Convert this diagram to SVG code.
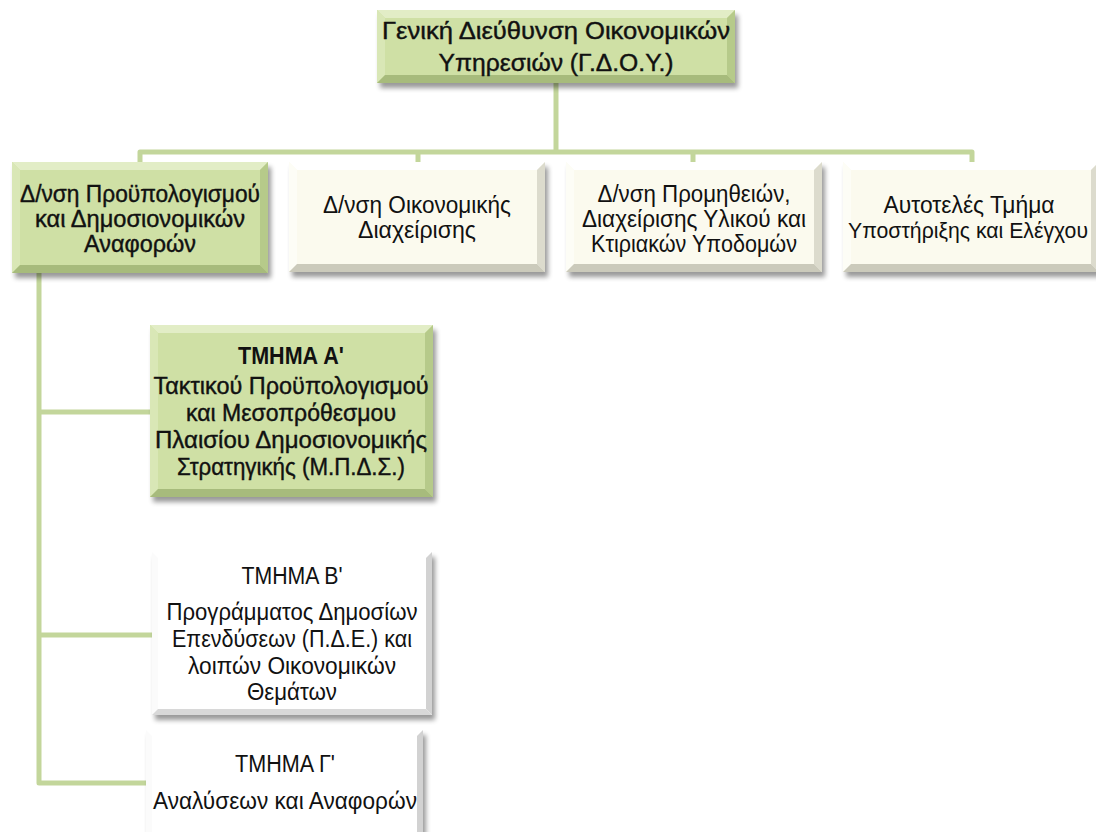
<svg xmlns="http://www.w3.org/2000/svg" width="1096" height="832" viewBox="0 0 1096 832">
  <defs>
    <filter id="shadow" x="-10%" y="-10%" width="130%" height="140%">
      <feGaussianBlur stdDeviation="2.5"/>
    </filter>
    <style>
      .conn { fill: none; stroke: #c3d69b; stroke-width: 5; stroke-linejoin: round; stroke-linecap: butt; }
      .shd { fill: #000; opacity: 0.4; filter: url(#shadow); }
      .green .base { fill: #cfe0a5; }
      .green .bt { fill: #e2edc6; }
      .green .bl { fill: #d9e7b6; }
      .green .br { fill: #b6ca8a; }
      .green .bb { fill: #a7bb7c; }
      .cream .base { fill: #fbfaee; }
      .cream .bt { fill: #ffffff; }
      .cream .bl { fill: #fdfdf6; }
      .cream .br { fill: #dcdbcd; }
      .cream .bb { fill: #cbcabb; }
      .white .base { fill: #ffffff; }
      .white .bt { fill: #ffffff; }
      .white .bl { fill: #fbfbfb; }
      .white .br { fill: #d2d2d2; }
      .white .bb { fill: #d8d8d8; }
      text { font-family: "Liberation Sans", Arial, sans-serif; font-size: 23.5px; fill: #111; text-anchor: middle; }
      .green text { stroke: #111; stroke-width: 0.4; }
      text.hd { font-weight: bold; stroke: none; }
      text.tight { font-size: 22px; }
    </style>
  </defs>
  <rect width="1096" height="832" fill="#ffffff"/>

  <!-- connectors -->
  <g id="connectors">
    <path class="conn" d="M556 83 V152"/>
    <path class="conn" d="M140 162 V152 H972 V162"/>
    <path class="conn" d="M418 152 V162"/>
    <path class="conn" d="M693 152 V162"/>
    <path class="conn" d="M39 273 V783 H146"/>
    <path class="conn" d="M39 412 H150"/>
    <path class="conn" d="M39 635 H152"/>
  </g>

  <!-- top: general directorate -->
  <g id="gdoy" class="green">
    <rect class="shd" x="380" y="15" width="358" height="73"/>
    <rect class="base" x="377" y="10" width="358" height="73"/>
    <polygon class="bt" points="377,10 735,10 727,18 385,18"/>
    <polygon class="bl" points="377,10 385,18 385,75 377,83"/>
    <polygon class="br" points="735,10 735,83 727,75 727,18"/>
    <polygon class="bb" points="377,83 385,75 727,75 735,83"/>
    <text x="556" y="39" textLength="348" lengthAdjust="spacingAndGlyphs">Γενική Διεύθυνση Οικονομικών</text>
    <text x="556" y="71" textLength="235" lengthAdjust="spacingAndGlyphs">Υπηρεσιών (Γ.Δ.Ο.Υ.)</text>
  </g>

  <!-- budget directorate -->
  <g id="dir-budget" class="green">
    <rect class="shd" x="15" y="167" width="256" height="111"/>
    <rect class="base" x="12" y="162" width="256" height="111"/>
    <polygon class="bt" points="12,162 268,162 260,170 20,170"/>
    <polygon class="bl" points="12,162 20,170 20,265 12,273"/>
    <polygon class="br" points="268,162 268,273 260,265 260,170"/>
    <polygon class="bb" points="12,273 20,265 260,265 268,273"/>
    <text x="140" y="202" textLength="240" lengthAdjust="spacingAndGlyphs">Δ/νση Προϋπολογισμού</text>
    <text x="140" y="227" textLength="210" lengthAdjust="spacingAndGlyphs">και Δημοσιονομικών</text>
    <text x="140" y="252" textLength="112" lengthAdjust="spacingAndGlyphs">Αναφορών</text>
  </g>

  <!-- financial management directorate -->
  <g id="dir-finance" class="cream">
    <rect class="shd" x="292" y="167" width="256" height="110"/>
    <rect class="base" x="289" y="162" width="256" height="110"/>
    <polygon class="bt" points="289,162 545,162 537,170 297,170"/>
    <polygon class="bl" points="289,162 297,170 297,264 289,272"/>
    <polygon class="br" points="545,162 545,272 537,264 537,170"/>
    <polygon class="bb" points="289,272 297,264 537,264 545,272"/>
    <text x="417" y="213" textLength="188" lengthAdjust="spacingAndGlyphs">Δ/νση Οικονομικής</text>
    <text x="417" y="238" textLength="118" lengthAdjust="spacingAndGlyphs">Διαχείρισης</text>
  </g>

  <!-- procurement directorate -->
  <g id="dir-procurement" class="cream">
    <rect class="shd" x="569" y="167" width="256" height="110"/>
    <rect class="base" x="566" y="162" width="256" height="110"/>
    <polygon class="bt" points="566,162 822,162 814,170 574,170"/>
    <polygon class="bl" points="566,162 574,170 574,264 566,272"/>
    <polygon class="br" points="822,162 822,272 814,264 814,170"/>
    <polygon class="bb" points="566,272 574,264 814,264 822,272"/>
    <text x="694" y="202" textLength="193" lengthAdjust="spacingAndGlyphs">Δ/νση Προμηθειών,</text>
    <text x="694" y="227" textLength="224" lengthAdjust="spacingAndGlyphs">Διαχείρισης Υλικού και</text>
    <text x="694" y="252" textLength="206" lengthAdjust="spacingAndGlyphs">Κτιριακών Υποδομών</text>
  </g>

  <!-- independent support unit -->
  <g id="unit-support" class="cream">
    <rect class="shd" x="846" y="167" width="256" height="110"/>
    <rect class="base" x="843" y="162" width="256" height="110"/>
    <polygon class="bt" points="843,162 1099,162 1091,170 851,170"/>
    <polygon class="bl" points="843,162 851,170 851,264 843,272"/>
    <polygon class="br" points="1099,162 1099,272 1091,264 1091,170"/>
    <polygon class="bb" points="843,272 851,264 1091,264 1099,272"/>
    <text x="969" y="213" textLength="171" lengthAdjust="spacingAndGlyphs">Αυτοτελές Τμήμα</text>
    <text class="tight" x="968" y="238" textLength="240" lengthAdjust="spacingAndGlyphs">Υποστήριξης και Ελέγχου</text>
  </g>

  <!-- section A -->
  <g id="section-a" class="green">
    <rect class="shd" x="153" y="330" width="283" height="172"/>
    <rect class="base" x="150" y="325" width="283" height="172"/>
    <polygon class="bt" points="150,325 433,325 425,333 158,333"/>
    <polygon class="bl" points="150,325 158,333 158,489 150,497"/>
    <polygon class="br" points="433,325 433,497 425,489 425,333"/>
    <polygon class="bb" points="150,497 158,489 425,489 433,497"/>
    <text class="hd" x="291" y="364" textLength="106" lengthAdjust="spacingAndGlyphs">ΤΜΗΜΑ Α'</text>
    <text x="291" y="394" textLength="275" lengthAdjust="spacingAndGlyphs">Τακτικού Προϋπολογισμού</text>
    <text x="291" y="421" textLength="210" lengthAdjust="spacingAndGlyphs">και Μεσοπρόθεσμου</text>
    <text x="291" y="448" textLength="272" lengthAdjust="spacingAndGlyphs">Πλαισίου Δημοσιονομικής</text>
    <text x="291" y="475" textLength="228" lengthAdjust="spacingAndGlyphs">Στρατηγικής (Μ.Π.Δ.Σ.)</text>
  </g>

  <!-- section B -->
  <g id="section-b" class="white">
    <rect class="shd" x="155" y="557" width="280" height="163"/>
    <rect class="base" x="152" y="552" width="280" height="163"/>
    <polygon class="bt" points="152,552 432,552 426,558 158,558"/>
    <polygon class="bl" points="152,552 158,558 158,709 152,715"/>
    <polygon class="br" points="432,552 432,715 426,709 426,558"/>
    <polygon class="bb" points="152,715 158,709 426,709 432,715"/>
    <text x="292" y="584" textLength="101" lengthAdjust="spacingAndGlyphs">ΤΜΗΜΑ Β'</text>
    <text x="292" y="620" textLength="251" lengthAdjust="spacingAndGlyphs">Προγράμματος Δημοσίων</text>
    <text x="292" y="647" textLength="240" lengthAdjust="spacingAndGlyphs">Επενδύσεων (Π.Δ.Ε.) και</text>
    <text x="292" y="674" textLength="208" lengthAdjust="spacingAndGlyphs">λοιπών Οικονομικών</text>
    <text x="292" y="700" textLength="90" lengthAdjust="spacingAndGlyphs">Θεμάτων</text>
  </g>

  <!-- section C -->
  <g id="section-c" class="white">
    <rect class="shd" x="149" y="735" width="277" height="110"/>
    <rect class="base" x="146" y="730" width="277" height="110"/>
    <polygon class="bt" points="146,730 423,730 417,736 152,736"/>
    <polygon class="bl" points="146,730 152,736 152,840 146,840"/>
    <polygon class="br" points="423,730 423,840 417,840 417,736"/>
    <text x="285" y="772" textLength="100" lengthAdjust="spacingAndGlyphs">ΤΜΗΜΑ Γ'</text>
    <text x="285" y="809" textLength="264" lengthAdjust="spacingAndGlyphs">Αναλύσεων και Αναφορών</text>
  </g>
</svg>
